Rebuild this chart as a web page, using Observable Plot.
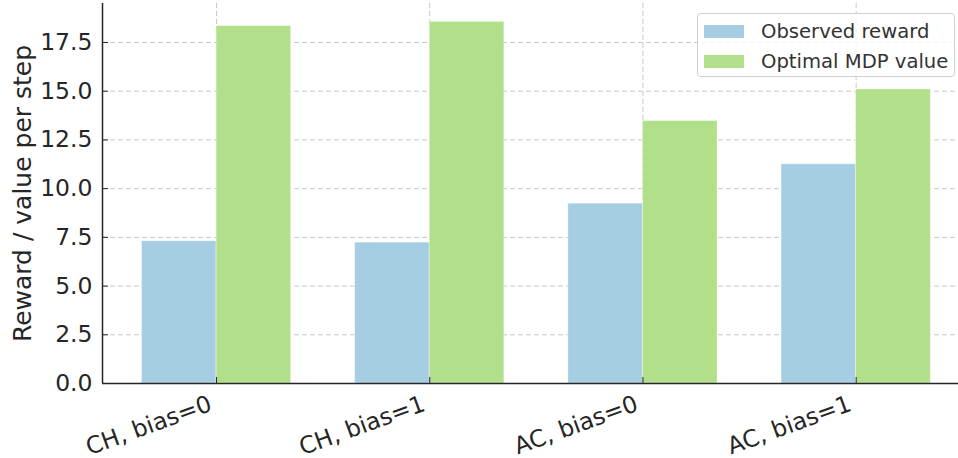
<!DOCTYPE html>
<html>
<head>
<meta charset="utf-8">
<script src="https://cdn.jsdelivr.net/npm/d3@7"></script>
<script src="https://cdn.jsdelivr.net/npm/@observablehq/plot@0.6"></script>
<style>
  html, body { margin: 0; padding: 0; background: #fff; }
  #wrap { position: relative; width: 958px; height: 458px; font-family: "DejaVu Sans", sans-serif; }
  .legend { position: absolute; left: 697px; top: 13px; width: 258px; height: 64px;
    border: 1.3px solid #d0d0d0; border-radius: 4px; background: rgba(255,255,255,0.8); box-sizing: border-box; }
  .row { position: absolute; left: 6px; height: 20px; display: flex; align-items: center; }
  .sw { width: 40px; height: 13px; margin-right: 17px; }
  .lt { font-size: 19.6px; color: #333; white-space: nowrap; }
</style>
</head>
<body>
<div id="wrap"></div>
<script>
const categories = ["CH, bias=0", "CH, bias=1", "AC, bias=0", "AC, bias=1"];
const seriesNames = ["Observed reward", "Optimal MDP value"];
const observed = [7.30, 7.23, 9.23, 11.25];
const optimal = [18.34, 18.56, 13.47, 15.09];
const yTicks = [0, 2.5, 5, 7.5, 10, 12.5, 15, 17.5];
const colors = ["#a6cee3", "#b2df8a"];
const barWidth = 0.35;

const groupIdx = categories.map((_, i) => i);
const data = [];
categories.forEach((c, i) => {
  data.push({i, cat: c, series: seriesNames[0], value: observed[i], x1: i - barWidth, x2: i});
  data.push({i, cat: c, series: seriesNames[1], value: optimal[i], x1: i, x2: i + barWidth});
});

const xDomain = [-0.535, 3.48];
const ink = "#262626";

const chart = Plot.plot({
  width: 958,
  height: 458,
  marginLeft: 102,
  marginRight: 0,
  marginTop: 3,
  marginBottom: 75,
  style: { fontFamily: "DejaVu Sans, sans-serif", background: "transparent", overflow: "visible" },
  x: { type: "linear", domain: xDomain },
  y: { domain: [0, 19.5] },
  color: { domain: seriesNames, range: colors },
  marks: [
    Plot.gridY(yTicks.filter(d => d > 0), { stroke: "#c8c8c8", strokeOpacity: 1, strokeWidth: 1, strokeDasharray: "5,3" }),
    Plot.gridX(groupIdx, { stroke: "#c8c8c8", strokeOpacity: 1, strokeWidth: 1, strokeDasharray: "5,3" }),
    Plot.rect(data, { x1: "x1", x2: "x2", y1: 0, y2: "value", fill: "series", stroke: "white", strokeWidth: 0.8, strokeOpacity: 0.5 }),
    Plot.ruleY([0], { stroke: ink, strokeWidth: 1.5 }),
    Plot.ruleX([xDomain[0]], { stroke: ink, strokeWidth: 1.5 }),
    Plot.axisY({ ticks: yTicks, tickFormat: d3.format(".1f"), tickSize: 6, dx: 6, tickPadding: 10, fontSize: 23.5, color: ink, label: null }),
    Plot.axisX({ ticks: groupIdx, tickFormat: () => "", tickSize: 6, dy: -6, color: ink, label: null }),
    Plot.text(categories, { x: (d, i) => i, frameAnchor: "bottom", text: d => d, rotate: -20, textAnchor: "end", lineAnchor: "top", dx: -9, dy: 11, fontSize: 23.5, fill: ink }),
    Plot.text(["Reward / value per step"], { frameAnchor: "left", text: d => d, rotate: -90, textAnchor: "middle", lineAnchor: "middle", dx: -80, fontSize: 25, fill: ink })
  ]
});

const wrap = document.getElementById("wrap");
wrap.appendChild(chart);
const leg = document.createElement("div");
leg.className = "legend";
seriesNames.forEach((s, k) => {
  const row = document.createElement("div");
  row.className = "row";
  row.style.top = (7 + k * 30) + "px";
  const sw = document.createElement("div");
  sw.className = "sw";
  sw.style.background = colors[k];
  const t = document.createElement("span");
  t.className = "lt";
  t.textContent = s;
  row.appendChild(sw); row.appendChild(t);
  leg.appendChild(row);
});
wrap.appendChild(leg);
</script>
</body>
</html>
